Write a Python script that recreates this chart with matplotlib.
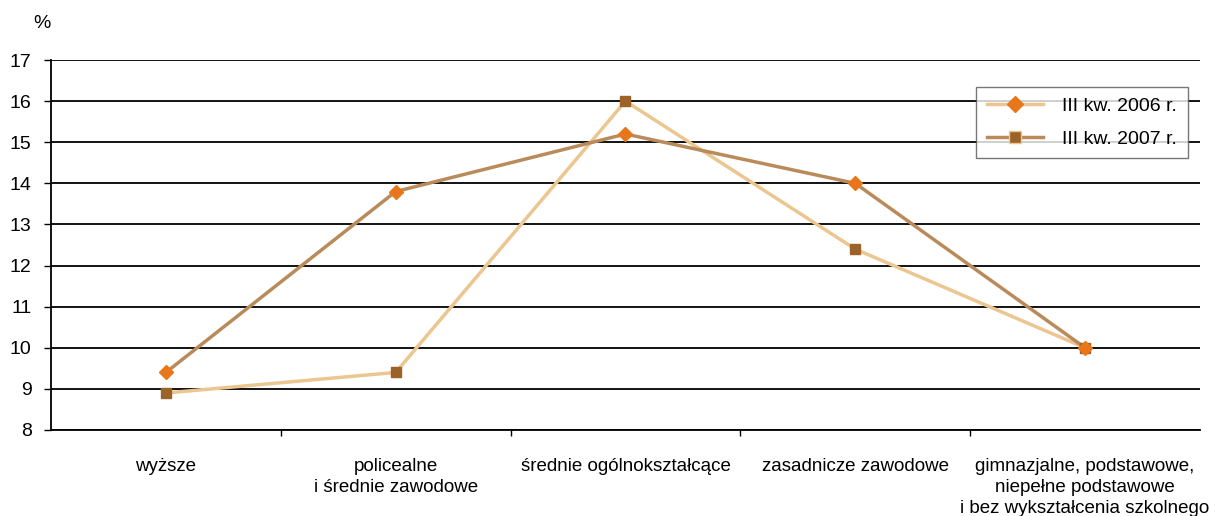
import matplotlib.pyplot as plt
from matplotlib.lines import Line2D

plt.rcParams['font.family'] = ['Liberation Sans', 'DejaVu Sans']

categories = ['wyższe', 'policealne\ni średnie zawodowe', 'średnie ogólnokształcące',
              'zasadnicze zawodowe',
              'gimnazjalne, podstawowe,\nniepełne podstawowe\ni bez wykształcenia szkolnego']
# light line with brown squares, dark line with orange diamonds (as in the source picture)
light_vals = [8.9, 9.4, 16.0, 12.4, 10.0]
dark_vals = [9.4, 13.8, 15.2, 14.0, 10.0]
labels = ['III kw. 2006 r.', 'III kw. 2007 r.']

light_col = '#ecc690'
dark_col = '#b98b5b'
orange = '#e8771c'
brown = '#9c6329'

fig = plt.figure(figsize=(12.17, 5.16), dpi=100)
ax = fig.add_axes([0.0419, 0.1667, 0.9441, 0.717])

x = range(len(categories))
ax.plot(x, light_vals, color=light_col, lw=2.5, zorder=3)
ax.plot(x, dark_vals, color=dark_col, lw=2.5, zorder=3)
ax.plot(x, light_vals, ls='none', marker='s', ms=7, color=brown, zorder=4)
ax.plot(x, dark_vals, ls='none', marker='D', ms=7, color=orange, zorder=5)

ax.set_xlim(-0.5, len(categories) - 0.5)
ax.set_ylim(8, 17)
ax.set_yticks(range(8, 18))
ax.yaxis.grid(True, color='black', lw=1.3)
ax.set_axisbelow(True)
for s in ['top', 'right']:
    ax.spines[s].set_visible(False)
ax.spines['left'].set_linewidth(1.3)
ax.spines['bottom'].set_linewidth(1.3)
ax.tick_params(axis='y', length=5, width=1, labelsize=14, pad=9)

ax.set_xticks([i + 0.5 for i in range(len(categories) - 1)])
ax.set_xticklabels([])
ax.tick_params(axis='x', length=4, width=1, direction='out')
ax.set_xticks(list(x), minor=True)
ax.set_xticklabels(categories, minor=True, fontsize=13.5, linespacing=1.3)
ax.tick_params(axis='x', which='minor', length=0, pad=20)

fig.text(42 / 1217, 1 - 28 / 516, '%', fontsize=14, ha='center', va='baseline')

handles = [Line2D([], [], color=light_col, lw=2.5, marker='D', ms=8, mfc=orange, mec=orange),
           Line2D([], [], color=dark_col, lw=2.5, marker='s', ms=9, mfc=brown, mec=light_col)]
leg = ax.legend(handles, labels, loc='upper right', bbox_to_anchor=(1188 / 1217, 1 - 87 / 516),
                bbox_transform=fig.transFigure, borderaxespad=0,
                fontsize=14, frameon=True, fancybox=False, edgecolor='#555555',
                handlelength=2.9, borderpad=0.55, labelspacing=0.75, handletextpad=1.0)
leg.get_frame().set_linewidth(1)

fig.savefig('out.png', dpi=100)
